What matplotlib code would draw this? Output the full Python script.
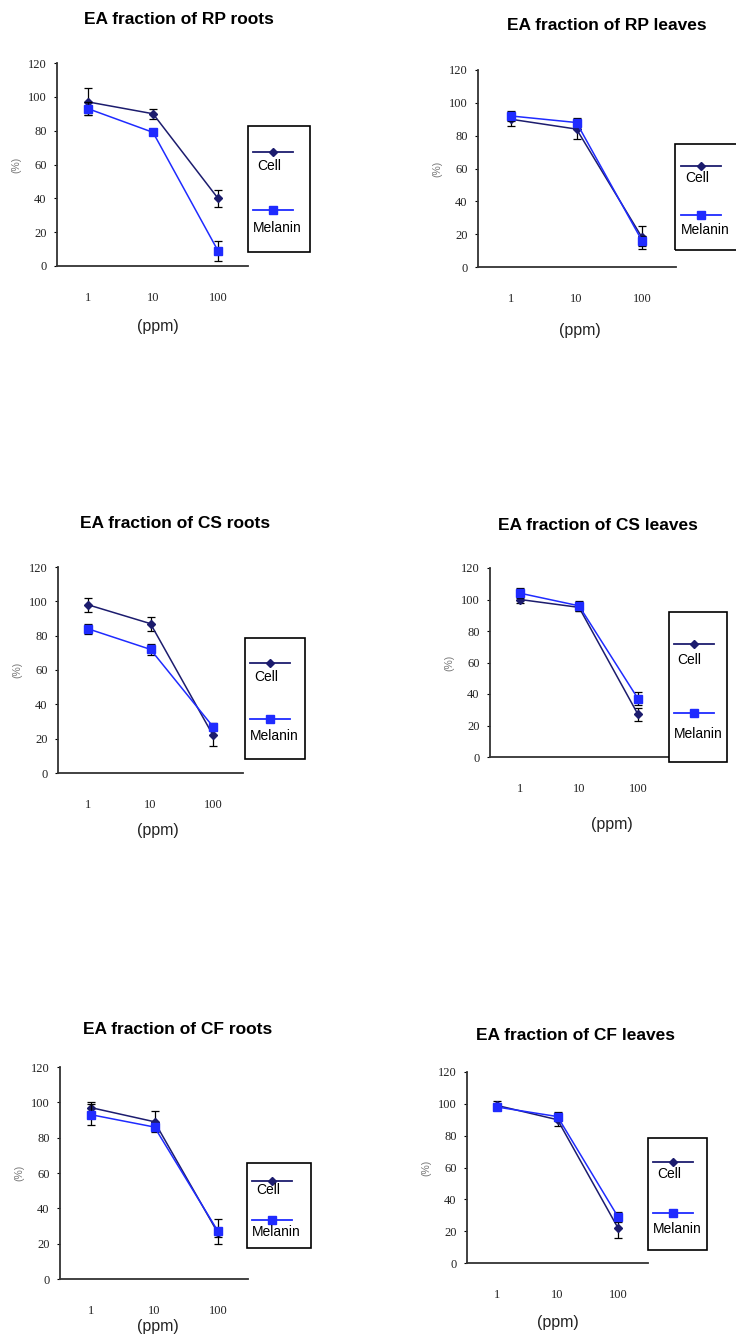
import matplotlib
matplotlib.use("Agg")
import matplotlib.pyplot as plt
from matplotlib.lines import Line2D
from matplotlib.patches import Rectangle

# ---------------------------------------------------------------
# data
# ---------------------------------------------------------------
conc_labels = ["1", "10", "100"]
series_names = ["Cell", "Melanin"]

titles = [
    "EA fraction of RP roots",
    "EA fraction of RP leaves",
    "EA fraction of CS roots",
    "EA fraction of CS leaves",
    "EA fraction of CF roots",
    "EA fraction of CF leaves",
]

rp_roots_cell = [97, 90, 40]
rp_roots_cell_err = [8, 3, 5]
rp_roots_mel = [93, 79, 9]
rp_roots_mel_err = [4, 1, 6]

rp_leaves_cell = [90, 84, 18]
rp_leaves_cell_err = [4, 6, 7]
rp_leaves_mel = [92, 88, 16]
rp_leaves_mel_err = [3, 3, 3]

cs_roots_cell = [98, 87, 22]
cs_roots_cell_err = [4, 4, 6]
cs_roots_mel = [84, 72, 27]
cs_roots_mel_err = [3, 3, 2]

cs_leaves_cell = [100, 95, 27]
cs_leaves_cell_err = [2, 2, 4]
cs_leaves_mel = [104, 96, 37]
cs_leaves_mel_err = [3, 3, 4]

cf_roots_cell = [97, 89, 26]
cf_roots_cell_err = [3, 6, 2]
cf_roots_mel = [93, 86, 27]
cf_roots_mel_err = [6, 2, 7]

cf_leaves_cell = [99, 90, 22]
cf_leaves_cell_err = [3, 4, 6]
cf_leaves_mel = [98, 92, 29]
cf_leaves_mel_err = [2, 3, 3]

cell_means = [rp_roots_cell, rp_leaves_cell, cs_roots_cell,
              cs_leaves_cell, cf_roots_cell, cf_leaves_cell]
cell_errs = [rp_roots_cell_err, rp_leaves_cell_err, cs_roots_cell_err,
             cs_leaves_cell_err, cf_roots_cell_err, cf_leaves_cell_err]
mel_means = [rp_roots_mel, rp_leaves_mel, cs_roots_mel,
             cs_leaves_mel, cf_roots_mel, cf_leaves_mel]
mel_errs = [rp_roots_mel_err, rp_leaves_mel_err, cs_roots_mel_err,
            cs_leaves_mel_err, cf_roots_mel_err, cf_leaves_mel_err]

# ---------------------------------------------------------------
# layout (pixels in a 736x1338 canvas)
# axis: x_left, x_right, y_zero, y_top, tick1, tick2, tick3
# ---------------------------------------------------------------
W, H = 736, 1338
axes_px = [
    (57, 248, 266, 63, 88, 153, 218),
    (478, 676, 267, 70, 511, 577, 642),
    (58, 243, 773, 567, 88, 152, 213),
    (490, 668, 757, 568, 520, 577, 638),
    (60, 248, 1279, 1067, 91, 156, 218),
    (467, 648, 1263, 1072, 497, 558, 618),
]
legend_px = [
    (248, 310, 126, 252),
    (675, 745, 144, 250),
    (245, 305, 638, 759),
    (669, 727, 612, 762),
    (247, 311, 1163, 1248),
    (648, 707, 1138, 1250),
]
title_px = [(179, 20), (607, 25), (175, 523), (598, 525), (178, 1030), (575, 1035)]
ppm_px = [(158, 327), (580, 330), (158, 830), (612, 825), (158, 1327), (558, 1322)]

CELL_COLOR = "#1c1c6e"
MEL_COLOR = "#1f2bff"

fig = plt.figure(figsize=(W / 100, H / 100), dpi=100)
fig.patch.set_facecolor("white")

title_font = dict(family=["Liberation Sans Narrow", "Liberation Sans", "DejaVu Sans"],
                  weight="bold", size=12.5)
tick_font = ["Liberation Serif", "DejaVu Serif"]
sans = ["Liberation Sans", "DejaVu Sans"]

for i in range(6):
    x0, x1, y0, y1, t1, t2, t3 = axes_px[i]
    step = (t3 - t1) / 2
    ax = fig.add_axes([x0 / W, 1 - y0 / H, (x1 - x0) / W, (y0 - y1) / H])
    ax.set_xlim(-(t1 - x0) / step, 2 + (x1 - t3) / step)
    ax.set_ylim(0, 120)
    xs = range(len(conc_labels))

    ax.errorbar(xs, cell_means[i], yerr=cell_errs[i], color=CELL_COLOR,
                ecolor="black", elinewidth=0.9, capsize=3, capthick=0.9,
                marker="D", markersize=4.5, lw=1.1, zorder=3)
    ax.errorbar(xs, mel_means[i], yerr=mel_errs[i], color=MEL_COLOR,
                ecolor="black", elinewidth=0.9, capsize=3, capthick=0.9,
                marker="s", markersize=5.5, lw=1.1, zorder=4)

    for side in ["top", "right"]:
        ax.spines[side].set_visible(False)
    for side in ["left", "bottom"]:
        ax.spines[side].set_color("#333333")
        ax.spines[side].set_linewidth(1.3)
    ax.set_yticks(range(0, 121, 20))
    ax.set_xticks(list(xs))
    ax.set_xticklabels(conc_labels)
    ax.tick_params(axis="x", length=0, pad=19)
    ax.tick_params(axis="y", length=2.5, width=0.8, pad=5)
    for lab in ax.get_xticklabels() + ax.get_yticklabels():
        lab.set_family(tick_font)
        lab.set_fontsize(9)
        lab.set_color("#222222")

    # y label "(%)" about 41 px left of the axis line
    ax.text(-41 / (x1 - x0), 0.5, "(%)", transform=ax.transAxes,
            rotation=90, ha="center", va="center", fontsize=7.5,
            color="#777777", family=sans)

    tx, ty = title_px[i]
    fig.text(tx / W, 1 - ty / H, titles[i], ha="center", va="center", **title_font)
    px, py = ppm_px[i]
    fig.text(px / W, 1 - py / H, "(ppm)", ha="center", va="center",
             fontsize=11.5, family=sans, color="#222222")

    # legend box
    lx0, lx1, ly0, ly1 = legend_px[i]
    lax = fig.add_axes([lx0 / W, 1 - ly1 / H, (lx1 - lx0) / W, (ly1 - ly0) / H])
    lax.set_xlim(0, 1)
    lax.set_ylim(0, 1)
    lax.axis("off")
    lax.add_patch(Rectangle((0, 0), 1, 1, transform=lax.transAxes, fill=False,
                            edgecolor="black", lw=1.2, clip_on=False))
    lw_px = 25 / (lx1 - lx0)
    for name, color, marker, ms, yl, yt in [
        (series_names[0], CELL_COLOR, "D", 4.5, 0.79, 0.68),
        (series_names[1], MEL_COLOR, "s", 5.5, 0.33, 0.19),
    ]:
        lax.add_line(Line2D([0.08, 0.08 + lw_px * 1.6], [yl, yl], color=color,
                            lw=1.3, transform=lax.transAxes))
        lax.add_line(Line2D([0.08 + lw_px * 0.8], [yl], color=color, marker=marker,
                            markersize=ms, lw=0, transform=lax.transAxes))
        lax.text(0.08 if name == "Melanin" else 0.15, yt, name,
                 transform=lax.transAxes, ha="left", va="center",
                 fontsize=10, family=sans, color="black")

fig.savefig("out.png", dpi=100, facecolor="white")
